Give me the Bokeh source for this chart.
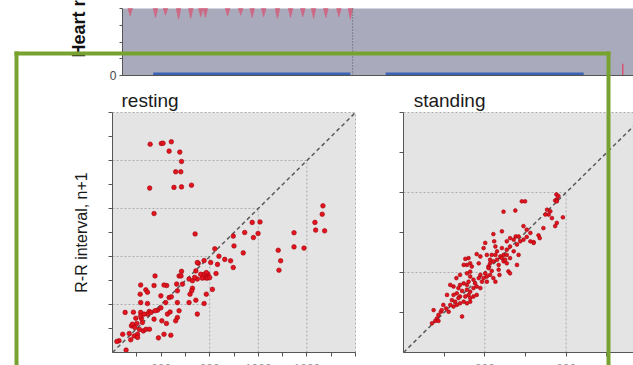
import math
from bokeh.plotting import figure
from bokeh.models import Range1d, FixedTicker, Label, LinearAxis
from bokeh.embed import file_html
from bokeh.resources import INLINE

# ---------------- data ----------------
# top panel: heart-rate trace (time in s, bpm) - only the dips reach into the visible range
spike_t = [10, 43, 56, 73, 89, 102, 108, 137, 154, 169, 184, 202, 219, 235, 249, 265, 282, 297]
spike_v = [71, 69, 72, 67, 68, 70, 69, 71, 72, 69, 70, 68, 69, 70, 68, 69, 70, 67]
time_range = [0, 666]
hr_range = [0, 80]
hr_ticks = [0, 20, 40, 60, 80]
hr_labeled = [0]
phase_boundary = 300
bar_start = [40, 343]
bar_end = [297, 601]
bar_height = 3.5
late_beat_t = [652]
late_beat_v = [14]

# Poincare plots (R-R interval n vs n+1, ms)
rest_x = [555, 601, 608, 642, 633, 677, 684, 660, 681, 653,
          684, 725, 553, 571, 740, 1266, 1263, 1233, 1236, 1273,
          1147, 1147, 1188, 1082, 1092, 1085, 1007, 975, 999, 980,
          944, 897, 900, 938, 886, 897, 862, 838, 821, 832,
          826, 804, 793, 781, 774, 749, 769, 790, 753, 777,
          811, 786, 777, 729, 726, 684, 688, 664, 667, 633,
          623, 612, 575, 571, 537, 516, 514, 544, 516, 544,
          551, 585, 599, 603, 642, 667, 674, 667, 660, 715,
          743, 719, 749, 640, 612, 589, 516, 486, 496, 478,
          519, 523, 511, 527, 538, 503, 469, 489, 475, 503,
          442, 452, 427, 418, 456, 552, 571, 619, 626, 622,
          637, 599, 674, 682, 715, 743, 749, 763, 786, 800,
          729, 738, 482, 492, 516, 544, 500, 530, 558, 575]
rest_y = [1268, 1271, 1272, 1278, 1239, 1235, 1196, 1153, 1153, 1088,
          1090, 1097, 1085, 979, 894, 1011, 976, 942, 910, 907,
          899, 840, 835, 826, 782, 743, 944, 942, 896, 879,
          900, 885, 844, 815, 782, 754, 788, 801, 832, 767,
          729, 775, 726, 711, 725, 706, 710, 710, 772, 783,
          663, 643, 604, 668, 657, 738, 685, 685, 657, 629,
          679, 681, 719, 679, 661, 681, 643, 651, 608, 604,
          571, 576, 586, 532, 632, 608, 574, 546, 532, 608,
          618, 643, 560, 472, 476, 461, 567, 568, 543, 511,
          542, 525, 496, 490, 497, 476, 479, 469, 453, 463,
          476, 567, 449, 446, 410, 497, 539, 608, 560, 521,
          569, 636, 719, 719, 706, 740, 775, 726, 733, 712,
          699, 713, 518, 504, 553, 560, 521, 560, 567, 574]

stand_x = [776, 777, 773, 781, 691, 699, 646, 675, 753, 757,
           765, 792, 777, 773, 695, 732, 720, 703, 687, 676,
           662, 654, 642, 621, 623, 601, 597, 605, 589, 580,
           560, 552, 564, 556, 568, 585, 609, 630, 634, 646,
           654, 662, 671, 683, 679, 695, 712, 720, 654, 646,
           638, 630, 626, 617, 613, 609, 617, 613, 621, 626,
           605, 601, 589, 585, 572, 564, 560, 556, 548, 539,
           535, 544, 556, 564, 572, 580, 593, 597, 580, 572,
           560, 552, 539, 531, 523, 519, 515, 523, 531, 539,
           548, 556, 564, 511, 505, 492, 482, 478, 470, 486,
           498, 515, 530, 523, 658, 662, 679, 654, 634, 636,
           544, 564, 589, 613, 626, 642, 662, 671, 683, 712,
           744, 703, 735, 749, 761, 777, 650, 642, 621, 605,
           576, 535, 527, 507, 494, 474, 486, 539, 556, 548,
           564]
stand_y = [795, 783, 780, 791, 778, 778, 752, 755, 757, 745,
           736, 738, 724, 716, 716, 693, 676, 689, 678, 690,
           686, 678, 703, 696, 678, 674, 661, 644, 640, 646,
           636, 634, 623, 619, 615, 623, 615, 632, 619, 628,
           623, 636, 653, 644, 670, 682, 678, 674, 657, 644,
           640, 653, 644, 644, 632, 611, 604, 594, 586, 577,
           590, 598, 594, 586, 582, 590, 577, 569, 573, 569,
           561, 554, 557, 552, 561, 565, 577, 586, 544, 540,
           544, 540, 540, 548, 544, 531, 519, 515, 519, 523,
           527, 523, 527, 502, 510, 502, 485, 479, 473, 494,
           519, 569, 586, 565, 603, 598, 619, 644, 607, 594,
           490, 536, 561, 623, 665, 661, 665, 682, 690, 699,
           711, 707, 686, 745, 753, 778, 632, 636, 628, 577,
           573, 536, 527, 544, 506, 506, 479, 594, 598, 619,
           602]

rest_range = [400, 1400]
stand_range = [400, 1000]
rest_ticks = [500, 600, 700, 800, 900, 1000, 1100, 1200, 1300, 1400]
stand_ticks = [500, 600, 700, 800, 900, 1000]
rest_labeled = [600, 800, 1000, 1200]
stand_labeled = [600, 800]
rest_hgrid_y = [600, 800, 1000, 1200, 1400]
rest_hgrid_xend = [800, 800, 1000, 1200, 1400]
rest_vgrid_x = [800, 1000, 1200, 1400]
rest_vgrid_yend = [800, 1000, 1200, 1400]
stand_hgrid_y = [600, 800, 1000]
stand_hgrid_xend = [600, 800, 1000]
stand_vgrid_x = [600, 800, 1000]
stand_vgrid_yend = [600, 800, 1000]

# ---------------- layout (page pixels) ----------------
W, H = 633, 365
TOP_BOX = dict(x0=122, x1=633, ybot=75, ytop=8)
REST_BOX = dict(x0=112, x1=355, ybot=352, ytop=112)
STAND_BOX = dict(x0=403, x1=647, ybot=352, ytop=112)
GREEN_FRAME = dict(left=14, right=610, top=51, thick=4)

FONT = "Liberation Sans"
GREEN = "#77a22f"
RED = "#e3141e"
RED_EDGE = "#a0000a"
AXIS = "#555555"


def x_map(v0, v1, box):
    s = (box["x1"] - box["x0"]) / (v1 - v0)
    return Range1d(v0 - box["x0"] / s, v0 + (W - box["x0"]) / s)


def y_map(v0, v1, box):
    s = (box["ybot"] - box["ytop"]) / (v1 - v0)
    return Range1d(v0 - (H - box["ybot"]) / s, v0 + box["ybot"] / s)


p = figure(width=W, height=H, x_range=Range1d(0, W), y_range=Range1d(H, 0),
           x_axis_type=None, y_axis_type=None, min_border=0,
           output_backend="svg", toolbar_location=None, outline_line_color=None,
           background_fill_color="white", border_fill_color="white")
p.grid.visible = False
p.extra_x_ranges = {"t": x_map(*time_range, TOP_BOX),
                    "rx": x_map(*rest_range, REST_BOX),
                    "sx": x_map(*stand_range, STAND_BOX)}
p.extra_y_ranges = {"hr": y_map(*hr_range, TOP_BOX),
                    "ry": y_map(*rest_range, REST_BOX),
                    "sy": y_map(*stand_range, STAND_BOX)}


def make_axis(dim, xr, yr, loc, bounds, ticks, labeled, tick_out, label_color="#444444",
              standoff=3):
    """axis with ticks (no labels) plus a twin axis carrying only the labelled ticks"""
    ax = LinearAxis(x_range_name=xr, y_range_name=yr, fixed_location=loc, bounds=tuple(bounds),
                    ticker=FixedTicker(ticks=ticks), axis_line_color=AXIS,
                    major_tick_line_color=AXIS, major_tick_out=tick_out, major_tick_in=0,
                    minor_tick_line_color=None, major_label_text_color=None,
                    major_label_overrides={t: "" for t in ticks}, major_label_standoff=0)
    p.add_layout(ax, "below" if dim == "x" else "left")
    if labeled:
        lab = LinearAxis(x_range_name=xr, y_range_name=yr, fixed_location=loc,
                         bounds=tuple(bounds), ticker=FixedTicker(ticks=labeled),
                         axis_line_color=None, major_tick_line_color=None,
                         major_tick_out=tick_out, major_tick_in=0, minor_tick_line_color=None,
                         major_label_text_font=FONT, major_label_text_font_size="12px",
                         major_label_text_color=label_color, major_label_standoff=standoff)
        p.add_layout(lab, "below" if dim == "x" else "left")
    return ax


# ---------------- top panel ----------------
p.quad(left=time_range[0], right=time_range[1], bottom=hr_range[0], top=hr_range[1],
       x_range_name="t", y_range_name="hr", fill_color="#a9abbd", line_color=None)
p.patches([[t - 3, t, t + 3] for t in spike_t], [[hr_range[1], v, hr_range[1]] for v in spike_v],
          x_range_name="t", y_range_name="hr", fill_color="#d45a78", fill_alpha=0.8,
          line_color="#d45a78", line_alpha=0.6, line_width=0.8)
p.segment(x0=late_beat_t, y0=[0] * len(late_beat_t), x1=late_beat_t, y1=late_beat_v,
          x_range_name="t", y_range_name="hr", line_color="#d9536d", line_width=1.5)
p.segment(x0=[phase_boundary], y0=[hr_range[0]], x1=[phase_boundary], y1=[hr_range[1]],
          x_range_name="t", y_range_name="hr", line_color="#555555", line_dash="1 2",
          line_width=1)
p.quad(left=bar_start, right=bar_end, bottom=0, top=bar_height, x_range_name="t",
       y_range_name="hr", fill_color="#3a62b5", line_color=None)
make_axis("y", "t", "hr", time_range[0], hr_range, hr_ticks, hr_labeled, 3, standoff=3)
make_axis("x", "t", "hr", hr_range[0], time_range, [], [], 0)
p.add_layout(Label(x=-57, y=21.5, x_range_name="t", y_range_name="hr",
                   text="Heart rate (bpm)", angle=math.pi / 2, text_align="left",
                   text_baseline="middle", text_font=FONT, text_font_style="bold",
                   text_font_size="18px", text_color="#111111"))


# ---------------- Poincare panels ----------------
def poincare(xr, yr, rng, ticks, labeled, xs, ys, hy, hxend, vx, vyend, title, tx, ty, size):
    p.quad(left=rng[0], right=rng[1], bottom=rng[0], top=rng[1], x_range_name=xr,
           y_range_name=yr, fill_color="#e4e4e4", line_color=None)
    p.segment(x0=[rng[0]] * len(hy), y0=hy, x1=hxend, y1=hy, x_range_name=xr,
              y_range_name=yr, line_color="#adadad", line_dash="2 2", line_width=1)
    p.segment(x0=vx, y0=[rng[0]] * len(vx), x1=vx, y1=vyend, x_range_name=xr,
              y_range_name=yr, line_color="#adadad", line_dash="2 2", line_width=1)
    p.line(rng, rng, x_range_name=xr, y_range_name=yr, line_color="#5a5a5a",
           line_dash="4 3", line_width=1.5)
    p.scatter(xs, ys, x_range_name=xr, y_range_name=yr, size=size, fill_color=RED,
              line_color=RED_EDGE, line_width=0.6)
    make_axis("x", xr, yr, rng[0], rng, ticks, labeled, 4, label_color="#9a9a9a", standoff=7)
    yax = make_axis("y", xr, yr, rng[0], rng, ticks, [], 4)
    p.add_layout(Label(x=tx, y=ty, x_range_name=xr, y_range_name=yr, text=title,
                       text_font=FONT, text_font_size="19px", text_color="#1a1a1a",
                       text_baseline="alphabetic", text_align="left"))
    return yax


yax = poincare("rx", "ry", rest_range, rest_ticks, rest_labeled, rest_x, rest_y,
               rest_hgrid_y, rest_hgrid_xend, rest_vgrid_x, rest_vgrid_yend,
               "resting", 437, 1452, 4.6)
yax.axis_label = "R-R interval, n+1"
yax.axis_label_text_font = FONT
yax.axis_label_text_font_size = "16px"
yax.axis_label_text_font_style = "normal"
yax.axis_label_text_color = "#1a1a1a"
yax.axis_label_standoff = 19

poincare("sx", "sy", stand_range, stand_ticks, stand_labeled, stand_x, stand_y,
         stand_hgrid_y, stand_hgrid_xend, stand_vgrid_x, stand_vgrid_yend,
         "standing", 425, 1031, 3.8)

# ---------------- green highlight frame ----------------
g = GREEN_FRAME
p.quad(left=[g["left"], g["left"], g["right"] - g["thick"]],
       right=[g["right"], g["left"] + g["thick"], g["right"]],
       top=[g["top"], g["top"], g["top"]],
       bottom=[g["top"] + g["thick"], H, H],
       fill_color=GREEN, line_color=None, level="overlay")

open("out.html", "w").write(file_html(p, INLINE))
